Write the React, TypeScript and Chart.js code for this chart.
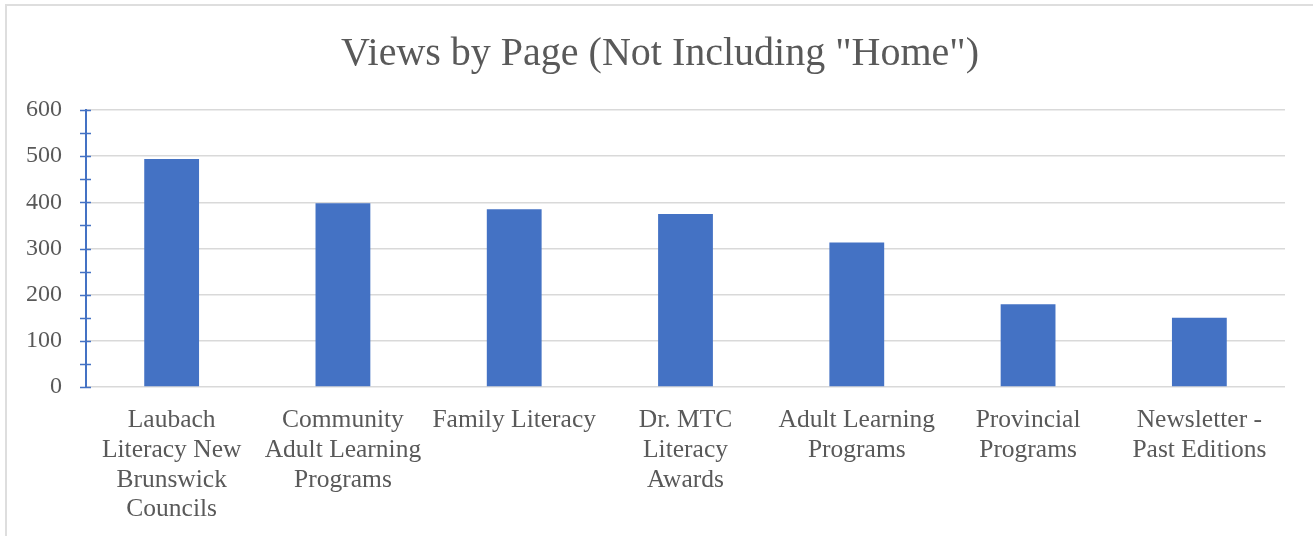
import React, { useEffect, useRef } from "react";
import { Chart, registerables } from "chart.js";

Chart.register(...registerables);

const titleText = 'Views by Page (Not Including "Home")';
const categories: (string | string[])[] = [
  ["Laubach", "Literacy New", "Brunswick", "Councils"],
  ["Community", "Adult Learning", "Programs"],
  "Family Literacy",
  ["Dr. MTC", "Literacy", "Awards"],
  ["Adult Learning", "Programs"],
  ["Provincial", "Programs"],
  ["Newsletter -", "Past Editions"],
];
const views = [494, 398, 385, 375, 313, 179, 150];
const yMin = 0;
const yMax = 600;
const yStep = 100;
const yTickMarks = [0, 50, 100, 150, 200, 250, 300, 350, 400, 450, 500, 550, 600];

const FONT = "'Liberation Serif', 'Times New Roman', serif";
const TEXT = "#595959";
const BLUE = "#4472C4";

const crossTicks = {
  id: "crossTicks",
  afterDraw(chart: any) {
    const y = chart.scales.y;
    const x0 = chart.chartArea.left;
    const ctx = chart.ctx;
    ctx.save();
    ctx.strokeStyle = BLUE;
    ctx.lineWidth = 1.5;
    ctx.beginPath();
    for (const v of yTickMarks) {
      const py = Math.round(y.getPixelForValue(v)) + 0.5;
      ctx.moveTo(x0 - 6, py);
      ctx.lineTo(x0 + 5, py);
    }
    ctx.stroke();
    ctx.restore();
  },
};

export default function App() {
  const ref = useRef<HTMLCanvasElement>(null);
  useEffect(() => {
    if (!ref.current) return;
    const chart = new Chart(ref.current, {
      type: "bar",
      data: {
        labels: categories,
        datasets: [
          {
            data: views,
            backgroundColor: BLUE,
            borderWidth: 0,
            barPercentage: 0.32,
            categoryPercentage: 1,
          },
        ],
      },
      options: {
        responsive: false,
        animation: false,
        devicePixelRatio: 1,
        layout: { padding: { left: 7, right: 0, top: 5, bottom: 0 } },
        plugins: {
          legend: { display: false },
          tooltip: { enabled: false },
          title: {
            display: true,
            text: titleText,
            color: TEXT,
            font: { family: FONT, size: 40, weight: "normal", lineHeight: 1.2 },
            padding: { top: 25, bottom: 32 },
          },
        },
        scales: {
          x: {
            grid: { display: false, drawTicks: false },
            border: { display: false },
            ticks: {
              color: TEXT,
              font: { family: FONT, size: 25.5, lineHeight: 1.16 },
              padding: 19,
              maxRotation: 0,
              minRotation: 0,
              autoSkip: false,
            },
            afterFit(scale: any) {
              scale.height = 149;
            },
          },
          y: {
            min: yMin,
            max: yMax,
            grid: { color: "#d9d9d9", lineWidth: 1.5, drawTicks: false },
            border: { display: true, color: BLUE, width: 2 },
            ticks: {
              stepSize: yStep,
              color: TEXT,
              font: { family: FONT, size: 24 },
              padding: 24,
            },
            afterFit(scale: any) {
              scale.width = 79;
            },
          },
          yRightSpacer: {
            type: "linear",
            position: "right",
            display: true,
            min: yMin,
            max: yMax,
            grid: { display: false, drawTicks: false },
            border: { display: false },
            ticks: { display: false },
            afterFit(scale: any) {
              scale.width = 28;
            },
          },
        },
      },
      plugins: [crossTicks],
    });
    return () => chart.destroy();
  }, []);
  return (
    <div style={{ position: "absolute", left: 0, top: 0, width: 1313, height: 536, overflow: "hidden", background: "#fff" }}>
      <div
        style={{
          position: "absolute",
          left: 5,
          top: 4,
          width: 1308,
          height: 532,
          boxSizing: "border-box",
          borderLeft: "2px solid #dedede",
          borderTop: "2px solid #dedede",
        }}
      />
      <canvas ref={ref} width={1313} height={536} style={{ position: "absolute", left: 0, top: 0 }} />
    </div>
  );
}
